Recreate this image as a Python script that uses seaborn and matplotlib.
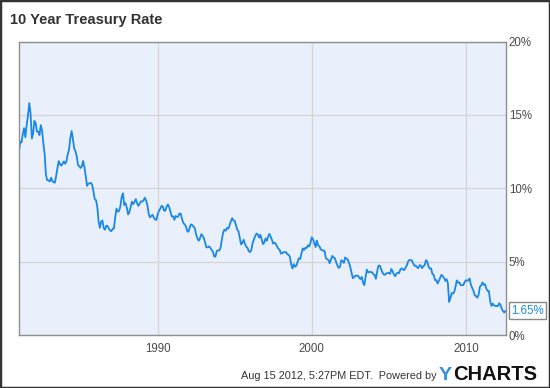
import pandas as pd
import matplotlib.pyplot as plt
import matplotlib.patches as mpatches
import seaborn as sns

# monthly 10 year treasury rate (%), Jan 1981 - Aug 2012
rates_1980s = [
    12.5, 13.19, 13.12, 13.68, 14.10, 13.47, 14.28, 14.94, 15.8, 15.15, 13.39, 13.72,
    14.59, 14.43, 13.86, 13.87, 13.62, 14.30, 13.95, 13.06, 12.34, 10.91, 10.55, 10.54,
    10.46, 10.72, 10.51, 10.40, 10.38, 10.85, 11.38, 11.85, 11.65, 11.54, 11.69, 11.83,
    11.67, 11.84, 12.32, 12.63, 13.41, 13.9, 13.36, 12.72, 12.52, 12.16, 11.57, 11.50,
    11.38, 11.51, 11.86, 11.43, 10.85, 10.16, 10.31, 10.33, 10.37, 10.24, 9.78, 9.26,
    9.19, 8.70, 7.78, 7.30, 7.71, 7.80, 7.30, 7.17, 7.45, 7.43, 7.25, 7.11,
    7.08, 7.25, 7.25, 8.02, 8.61, 8.40, 8.45, 8.76, 9.42, 9.65, 8.86, 8.99,
    8.67, 8.21, 8.37, 8.72, 9.09, 8.92, 9.06, 9.26, 8.98, 8.80, 8.96, 9.11,
    9.09, 9.17, 9.36, 9.18, 8.86, 8.28, 8.02, 8.11, 8.19, 8.01, 7.87, 7.84,
]
rates_1990s = [
    8.21, 8.47, 8.59, 8.79, 8.76, 8.48, 8.47, 8.75, 8.89, 8.72, 8.39, 8.08,
    8.09, 7.85, 8.11, 8.04, 8.07, 8.28, 8.27, 7.90, 7.65, 7.53, 7.42, 7.09,
    7.03, 7.34, 7.54, 7.48, 7.39, 7.26, 6.84, 6.59, 6.42, 6.59, 6.87, 6.77,
    6.60, 6.26, 5.98, 5.97, 6.04, 5.96, 5.81, 5.68, 5.36, 5.33, 5.72, 5.77,
    5.75, 5.97, 6.48, 6.97, 7.18, 7.10, 7.30, 7.24, 7.46, 7.74, 7.96, 7.81,
    7.78, 7.47, 7.20, 7.06, 6.63, 6.17, 6.28, 6.49, 6.20, 6.04, 5.93, 5.71,
    5.65, 5.81, 6.27, 6.51, 6.74, 6.91, 6.87, 6.64, 6.83, 6.53, 6.20, 6.30,
    6.58, 6.42, 6.69, 6.89, 6.71, 6.49, 6.22, 6.30, 6.21, 6.03, 5.88, 5.81,
    5.54, 5.57, 5.65, 5.64, 5.65, 5.50, 5.46, 5.34, 4.81, 4.53, 4.83, 4.65,
    4.72, 5.00, 5.23, 5.18, 5.54, 5.90, 5.79, 5.94, 5.92, 6.11, 6.03, 6.28,
]
rates_2000s = [
    6.66, 6.52, 6.26, 5.99, 6.44, 6.10, 6.05, 5.83, 5.80, 5.74, 5.72, 5.24,
    5.16, 5.10, 4.89, 5.14, 5.39, 5.28, 5.24, 4.97, 4.73, 4.57, 4.65, 5.09,
    5.04, 4.91, 5.28, 5.21, 5.16, 4.93, 4.65, 4.26, 3.87, 3.94, 4.05, 4.03,
    4.05, 3.90, 3.81, 3.96, 3.57, 3.40, 3.98, 4.45, 4.27, 4.29, 4.30, 4.27,
    4.15, 4.08, 3.83, 4.35, 4.72, 4.73, 4.50, 4.28, 4.13, 4.10, 4.19, 4.23,
    4.22, 4.17, 4.50, 4.34, 4.14, 4.00, 4.18, 4.26, 4.20, 4.46, 4.54, 4.47,
    4.42, 4.57, 4.72, 4.99, 5.11, 5.11, 5.09, 4.88, 4.72, 4.73, 4.60, 4.56,
    4.76, 4.72, 4.56, 4.69, 4.75, 5.10, 5.00, 4.67, 4.52, 4.53, 4.15, 4.10,
    3.74, 3.74, 3.51, 3.68, 3.88, 4.10, 4.01, 3.89, 3.69, 3.81, 3.53, 2.25,
    2.52, 2.87, 2.82, 2.93, 3.29, 3.72, 3.56, 3.59, 3.40, 3.39, 3.40, 3.59,
]
rates_2010s = [
    3.73, 3.69, 3.73, 3.85, 3.42, 3.20, 3.01, 2.70, 2.65, 2.54, 2.76, 3.29,
    3.39, 3.58, 3.41, 3.46, 3.17, 3.00, 3.00, 2.30, 1.98, 2.15, 2.01, 1.98,
    1.97, 1.97, 2.17, 2.05, 1.80, 1.62, 1.53, 1.65,
]

year_ticks = [1990, 2000, 2010]
pct_ticks = [0, 5, 10, 15, 20]
last_label = "1.65%"

rates = rates_1980s + rates_1990s + rates_2000s + rates_2010s
df = pd.DataFrame({
    "date": pd.date_range("1981-01-01", periods=len(rates), freq="MS"),
    "rate": rates,
})

line_color = "#1a88e6"
sns.set_theme(style="white")
plt.rcParams["font.family"] = ["Liberation Sans", "DejaVu Sans"]

fig = plt.figure(figsize=(5.5, 3.88), dpi=100)
ax = fig.add_axes([19 / 550, 53 / 388, 487 / 550, 293.5 / 388])
ax.set_facecolor("#e9f0fc")

sns.lineplot(data=df, x="date", y="rate", color=line_color, linewidth=1.3, ax=ax)

ax.set_xlim(pd.Timestamp("1981-01-01"), pd.Timestamp("2012-08-10"))
ax.set_ylim(0, 20)
ax.set_xticks([pd.Timestamp(f"{y}-01-01") for y in year_ticks])
ax.set_xticklabels([str(y) for y in year_ticks])
ax.set_yticks(pct_ticks)
ax.set_yticklabels([f"{p}%" for p in pct_ticks])
ax.yaxis.tick_right()
ax.tick_params(axis="both", length=0, labelsize=8.3, labelcolor="#4a4a4a")
ax.tick_params(axis="x", pad=6)
ax.tick_params(axis="y", pad=2)
ax.grid(True, color="#d6d6d6", linewidth=1)
ax.set_xlabel("")
ax.set_ylabel("")
for s in ax.spines.values():
    s.set_color("#8f8f8f")
    s.set_linewidth(1)

ax.annotate(last_label, xy=(1.0, rates[-1]), xycoords=("axes fraction", "data"),
            xytext=(4, 0), textcoords="offset points", ha="left", va="center",
            fontsize=8.3, color=line_color, annotation_clip=False,
            bbox=dict(boxstyle="square,pad=0.2", fc="white", ec="#888888", lw=1))

fig.text(10 / 550, 1 - 20 / 388, "10 Year Treasury Rate", fontsize=10.5,
         fontweight="bold", color="#333333", va="center", ha="left")
fig.text(241 / 550, 1 - 376 / 388, "Aug 15 2012, 5:27PM EDT.  Powered by",
         fontsize=7.8, color="#333333", va="center", ha="left")
fig.text(439 / 550, 1 - 375 / 388, "Y", fontsize=14, fontweight="bold",
         color="#2e8fe6", va="center", ha="left")
fig.text(453 / 550, 1 - 375 / 388, "CHARTS", fontsize=14.5, fontweight="bold",
         color="#111111", va="center", ha="left")

fig.patches.append(mpatches.Rectangle((0, 0), 1, 1, transform=fig.transFigure,
                                      fill=False, ec="#333333", lw=2.5))

fig.savefig("out.png", dpi=100)
